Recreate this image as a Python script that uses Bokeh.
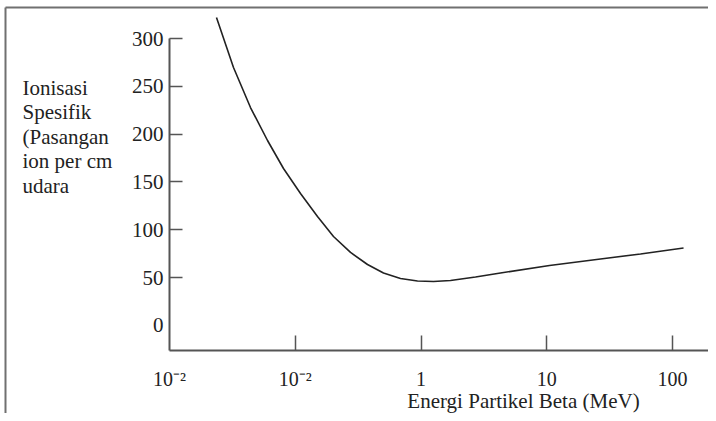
from bokeh.plotting import figure
from bokeh.models import FixedTicker, Range1d
from bokeh.core.properties import value
from bokeh.embed import file_html
from bokeh.resources import INLINE

# ---- data ----
energy_mev = [0.02364, 0.03228, 0.04406, 0.06018, 0.08064, 0.1101, 0.1503, 0.2014,
              0.2751, 0.3755, 0.5031, 0.6871, 0.9379, 1.257, 1.716, 2.713, 4.287,
              10.52, 26.76, 55.66, 122.4]
ionization = [322.0, 269.7, 227.8, 193.3, 164.0, 137.9, 113.8, 92.9,
              76.2, 63.6, 54.7, 49.0, 46.3, 45.8, 46.9, 50.5, 54.7,
              62.6, 69.4, 74.6, 80.9]

x_ticks = [0.01, 0.1, 1, 10, 100]
x_tick_marks = [0.1, 1, 10, 100]
x_tick_labels = ["10\u207b\u00b2", "10\u207b\u00b2", "1", "10", "100"]
y_ticks = [0, 50, 100, 150, 200, 250, 300]
y_tick_marks = [50, 100, 150, 200, 250, 300]
y_label_lines = ["Ionisasi", "Spesifik", "(Pasangan", "ion per cm", "udara"]
x_label = "Energi Partikel Beta (MeV)"

FONT = "Liberation Serif"
INK = "#222222"
AXIS = "#555555"

# ---- layout calibration (picture pixels) ----
W, H = 708, 413
OFF = 0                      # canvas position in the picture
PX_DEC = 125.75              # pixels per decade on x
X_ORIGIN = 169               # picture x of E = 0.01 (axis origin)
PX_UNIT = 239 / 250          # pixels per unit on y
Y50 = 277                    # picture y of value 50
AXIS_Y_PIX = 350             # picture y of the x axis line
AXIS_X_END_PIX = 709         # picture x where the x axis ends

def xv(px):
    return 10 ** (-2 + (px - X_ORIGIN) / PX_DEC)

def yv(py):
    return 50 + (Y50 - py) / PX_UNIT

x_start, x_end = xv(OFF), xv(OFF + W)
y_end, y_start = yv(OFF), yv(OFF + H)
y_axis_floor = yv(AXIS_Y_PIX)

p = figure(width=W, height=H, x_axis_type="log",
           x_range=Range1d(x_start, x_end), y_range=Range1d(y_start, y_end),
           output_backend="svg", toolbar_location=None,
           min_border=0, min_border_left=0, min_border_right=0,
           min_border_top=0, min_border_bottom=0)
p.outline_line_color = None
p.grid.visible = False
p.background_fill_color = "white"
p.border_fill_color = "white"

# x axis
xa = p.xaxis[0]
xa.fixed_location = y_axis_floor
xa.bounds = (0.01, xv(AXIS_X_END_PIX))
xa.ticker = FixedTicker(ticks=x_ticks, minor_ticks=x_tick_marks)
xa.major_label_overrides = {t: l for t, l in zip(x_ticks, x_tick_labels)}
xa.major_tick_line_color = None
xa.major_tick_in = 0
xa.major_tick_out = 0
xa.minor_tick_in = 15
xa.minor_tick_out = 0
xa.minor_tick_line_color = AXIS
xa.minor_tick_line_width = 1.5
xa.axis_line_color = AXIS
xa.axis_line_width = 2
xa.major_label_standoff = 17
xa.major_label_text_font = FONT
xa.major_label_text_font_size = "20px"
xa.major_label_text_color = INK

# y axis
ya = p.yaxis[0]
ya.fixed_location = 0.01
ya.bounds = (y_axis_floor, 300)
ya.ticker = FixedTicker(ticks=y_ticks, minor_ticks=y_tick_marks)
ya.major_tick_line_color = None
ya.major_tick_in = 0
ya.major_tick_out = 0
ya.minor_tick_in = 13
ya.minor_tick_out = 0
ya.minor_tick_line_color = AXIS
ya.minor_tick_line_width = 1.5
ya.axis_line_color = AXIS
ya.axis_line_width = 2
ya.major_label_standoff = 6
ya.major_label_text_font = FONT
ya.major_label_text_font_size = "21px"
ya.major_label_text_color = INK

# curve
p.line(energy_mev, ionization, line_color=INK, line_width=1.6)

# picture frame (top and left edges)
p.segment(x0=[xv(5), xv(5)], y0=[yv(7), yv(7)], x1=[x_end, xv(5)], y1=[yv(7), y_start],
          line_color="#707070", line_width=2)

# y-axis title (horizontal, multi-line, left of the axis)
p.text(x=[xv(22)] * len(y_label_lines),
       y=[yv(87 + i * 24.5) for i in range(len(y_label_lines))],
       text=y_label_lines, text_font=value(FONT), text_font_size="21px",
       text_color=INK, text_align="left", text_baseline="middle")

# x-axis title
p.text(x=[xv(523)], y=[yv(400)], text=[x_label],
       text_font=value(FONT), text_font_size="21px", text_color=INK,
       text_align="center", text_baseline="middle")

open("out.html", "w").write(file_html(p, INLINE))
